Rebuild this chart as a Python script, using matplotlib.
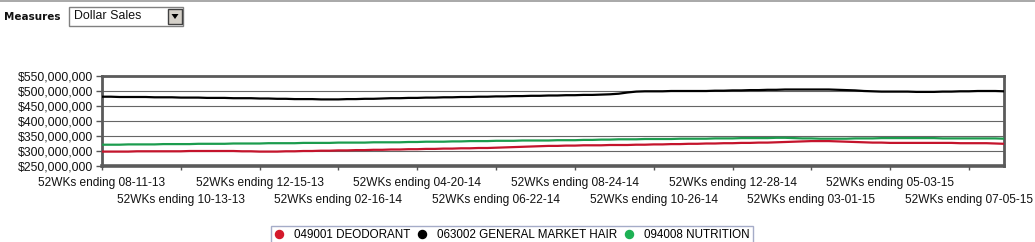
import numpy as np
import matplotlib
matplotlib.use("Agg")
import matplotlib.pyplot as plt
from matplotlib.patches import Rectangle, Polygon
from matplotlib.lines import Line2D
from matplotlib.ticker import FuncFormatter

# weekly dollar sales, millions
hair = [481, 481, 480, 480, 480, 480, 479, 479, 479, 478,
        478, 478, 477, 477, 477, 476, 476, 476, 475, 475,
        474, 474, 473, 473, 473, 472, 472, 472, 473, 473,
        474, 474, 475, 476, 476, 477, 477, 478, 478, 479,
        479, 480, 480, 481, 481, 482, 482, 483, 483, 484,
        484, 485, 485, 486, 486, 487, 487, 488, 489, 491,
        495, 498, 499, 499, 499, 500, 500, 500, 500, 500,
        501, 501, 502, 502, 503, 503, 504, 504, 505, 505,
        505, 505, 505, 505, 504, 503, 502, 500, 499, 498,
        498, 498, 498, 497, 497, 497, 498, 498, 499, 499,
        500, 500, 500, 499]
nutrition = [321, 321, 321, 322, 322, 322, 322, 323, 323, 323,
             323, 324, 324, 324, 324, 325, 325, 325, 325, 326,
             326, 326, 326, 327, 327, 327, 327, 328, 328, 328,
             328, 329, 329, 329, 329, 330, 330, 331, 331, 331,
             332, 332, 333, 333, 333, 334, 334, 334, 335, 335,
             335, 335, 336, 336, 336, 337, 337, 338, 338, 339,
             339, 339, 340, 340, 340, 340, 341, 341, 341, 341,
             342, 342, 342, 343, 343, 343, 343, 344, 344, 343,
             342, 342, 341, 341, 341, 341, 342, 342, 342, 343,
             343, 343, 343, 343, 343, 343, 342, 342, 342, 342,
             342, 342, 342, 341]
deodorant = [298, 298, 298, 298, 299, 299, 299, 299, 299, 299,
             300, 300, 300, 300, 300, 300, 299, 299, 298, 298,
             298, 299, 299, 300, 300, 301, 301, 302, 302, 303,
             303, 304, 304, 305, 305, 306, 306, 307, 307, 308,
             308, 309, 309, 310, 310, 311, 312, 313, 314, 315,
             316, 317, 317, 318, 318, 319, 319, 319, 320, 320,
             320, 321, 321, 322, 322, 323, 323, 324, 324, 325,
             325, 326, 326, 327, 327, 328, 328, 329, 330, 331,
             332, 333, 333, 333, 332, 331, 330, 329, 328, 328,
             327, 327, 327, 327, 327, 327, 327, 327, 326, 326,
             326, 326, 325, 324]

tick_labels = ["52WKs ending 08-11-13", "52WKs ending 10-13-13", "52WKs ending 12-15-13",
               "52WKs ending 02-16-14", "52WKs ending 04-20-14", "52WKs ending 06-22-14",
               "52WKs ending 08-24-14", "52WKs ending 10-26-14", "52WKs ending 12-28-14",
               "52WKs ending 03-01-15", "52WKs ending 05-03-15", "52WKs ending 07-05-15"]
series_names = ["049001 DEODORANT", "063002 GENERAL MARKET HAIR", "094008 NUTRITION"]

W, H = 1035, 242
plt.rcParams['font.family'] = ['Liberation Sans', 'DejaVu Sans']
fig = plt.figure(figsize=(W / 100, H / 100), dpi=100)

def fx(px): return px / W
def fy(py): return 1 - py / H

ax = fig.add_axes([fx(102), fy(166), fx(1004) - fx(102), fy(76) - fy(166)])
weeks = np.arange(len(hair))
red, blk, grn = "#c4142c", "#000000", "#1c9c4e"
ax.plot(weeks, np.array(deodorant) * 1e6, color=red, lw=1.6, zorder=3)
ax.plot(weeks, np.array(hair) * 1e6, color=blk, lw=1.6, zorder=3)
ax.plot(weeks, np.array(nutrition) * 1e6, color=grn, lw=1.6, zorder=3)

ax.set_xlim(0, len(hair) - 1)
ax.set_ylim(250e6, 550e6)
ax.set_yticks(np.arange(250e6, 551e6, 50e6))
ax.yaxis.set_major_formatter(FuncFormatter(lambda v, p: f"${v:,.0f}"))
ax.grid(axis='y', color='#666666', lw=0.8)
ax.set_axisbelow(True)

pos = np.arange(0, len(hair), 9)[:len(tick_labels)]
ax.set_xticks(pos[::2])
ax.set_xticklabels(tick_labels[::2])
ax.set_xticks(pos[1::2], minor=True)
ax.set_xticklabels(tick_labels[1::2], minor=True)
ax.tick_params(axis='x', which='both', length=3, width=1, color='#555555',
               labelsize=8.6, labelcolor='#111111')
ax.tick_params(axis='x', which='major', pad=5)
ax.tick_params(axis='x', which='minor', pad=17)
ax.tick_params(axis='y', length=4, width=1, color='#555555', pad=2.5,
               labelsize=8.8, labelcolor='#111111')
for s in ax.spines.values():
    s.set_color('#5a5a5a')
    s.set_linewidth(2)
ax.spines['bottom'].set_linewidth(2.6)

handles = [Line2D([], [], ls='', marker='o', ms=5.8, mfc=c, mec=c)
           for c in ["#d4192b", "#000000", "#1db154"]]
leg = fig.legend(handles, series_names, loc='center', ncol=3,
                 bbox_to_anchor=(fx(512), fy(235)), fontsize=8.4,
                 handletextpad=0.9, columnspacing=0.6, handlelength=0.8,
                 borderpad=0.25, borderaxespad=0, frameon=True, fancybox=False)
leg.get_frame().set_edgecolor('#8f98bb')
leg.get_frame().set_linewidth(1)

# header: rule, label and drop-down box
fig.add_artist(Line2D([0, 1], [fy(0.8), fy(0.8)], color='#999999', lw=1.2))
fig.text(fx(4), fy(17), "Measures", family='DejaVu Sans', weight='bold',
         fontsize=7.5, va='center', ha='left', color='#111111')
fig.add_artist(Rectangle((fx(69), fy(26)), fx(114), fy(7) - fy(26),
                         facecolor='white', edgecolor='#808080', lw=1))
fig.text(fx(74), fy(16.5), "Dollar Sales", fontsize=8.9, va='center',
         ha='left', color='#111111')
fig.add_artist(Rectangle((fx(168), fy(24)), fx(14), fy(9) - fy(24),
                         facecolor='#d4d0c8', edgecolor='#404040', lw=1))
fig.add_artist(Polygon([[fx(171.5), fy(14)], [fx(178.5), fy(14)], [fx(175), fy(19)]],
                       closed=True, facecolor='black', edgecolor='none'))

fig.savefig("out.png", dpi=100)
